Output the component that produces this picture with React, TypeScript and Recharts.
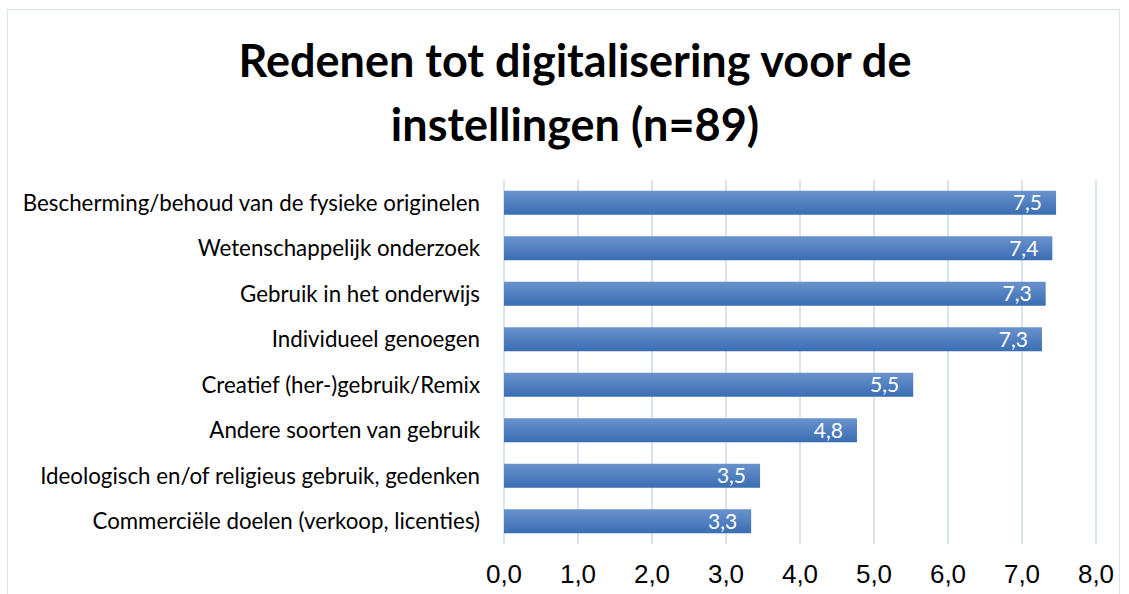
import React from "react";
import { BarChart, Bar, XAxis, YAxis, CartesianGrid, LabelList } from "recharts";

const categories = [
  "Bescherming/behoud van de fysieke originelen",
  "Wetenschappelijk onderzoek",
  "Gebruik in het onderwijs",
  "Individueel genoegen",
  "Creatief (her-)gebruik/Remix",
  "Andere soorten van gebruik",
  "Ideologisch en/of religieus gebruik, gedenken",
  "Commerciële doelen (verkoop, licenties)",
];
const values = [7.46, 7.41, 7.32, 7.27, 5.53, 4.77, 3.46, 3.34];
const xTicks = [0, 1, 2, 3, 4, 5, 6, 7, 8];

const data = categories.map((name, i) => ({ name, value: values[i] }));
const fmt = (v: any) => Number(v).toFixed(1).replace(".", ",");

export default function App() {
  return (
    <div style={{ position: "absolute", left: 0, top: 0, width: 1129, height: 594, background: "#fff", overflow: "hidden" }}>
      <div style={{ position: "absolute", left: 7, top: 9, width: 1113, height: 600, border: "1.5px solid #d9e3f0", boxSizing: "border-box" }} />
      <div
        style={{
          position: "absolute",
          left: 0,
          top: 28,
          width: 1150,
          textAlign: "center",
          fontFamily: "Lato, sans-serif",
          fontWeight: 700,
          fontSize: 45,
          lineHeight: "64px",
          color: "#000",
        }}
      >
        Redenen tot digitalisering voor de
        <br />
        instellingen (n=89)
      </div>
      <div style={{ position: "absolute", left: 0, top: 0 }}>
        <BarChart
          width={1129}
          height={594}
          data={data}
          layout="vertical"
          margin={{ top: 180, right: 33, bottom: 10, left: 0 }}
          barCategoryGap="23.5%"
        >
          <defs>
            <linearGradient id="barGrad" x1="0" y1="0" x2="0" y2="1">
              <stop offset="0%" stopColor="#6a93cd" />
              <stop offset="100%" stopColor="#3a6db3" />
            </linearGradient>
          </defs>
          <CartesianGrid horizontal={false} stroke="#dae4f1" strokeWidth={2} />
          <XAxis
            type="number"
            domain={[0, 8]}
            ticks={xTicks}
            axisLine={false}
            tickLine={false}
            tickSize={0}
            tickMargin={21}
            height={40}
            tickFormatter={fmt}
            tick={{ fill: "#000", fontSize: 26, fontFamily: "'Liberation Sans Narrow', 'Liberation Sans', sans-serif" }}
            interval={0}
          />
          <YAxis
            type="category"
            dataKey="name"
            width={504}
            axisLine={false}
            tickLine={false}
            tickSize={0}
            tickMargin={24}
            interval={0}
            tick={{ fill: "#000", fontSize: 22.3, fontFamily: "Lato, sans-serif" }}
          />
          <Bar dataKey="value" fill="url(#barGrad)" isAnimationActive={false}>
            <LabelList
              dataKey="value"
              position="insideRight"
              offset={14}
              formatter={fmt}
              fill="#fff"
              style={{ fontSize: 21, fontFamily: "Lato, sans-serif" }}
            />
          </Bar>
        </BarChart>
      </div>
    </div>
  );
}
